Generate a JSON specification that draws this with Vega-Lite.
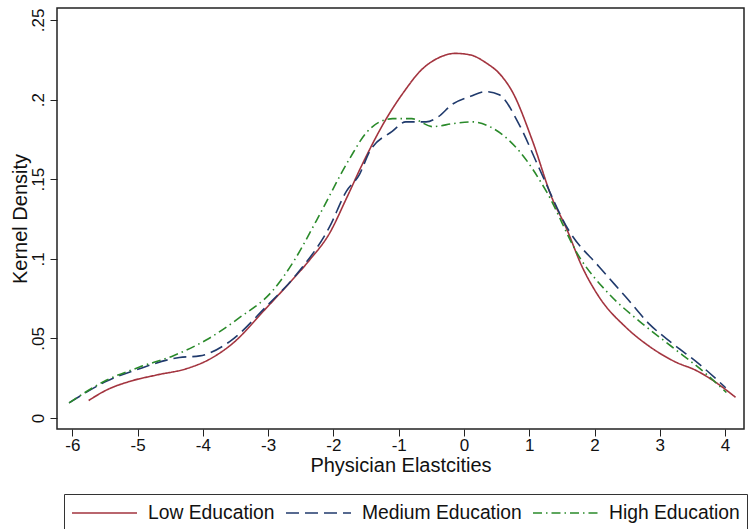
{
  "$schema": "https://vega.github.io/schema/vega-lite/v6.json",
  "autosize": "none",
  "width": 687,
  "height": 421,
  "padding": {"left": 57, "top": 8, "right": 4, "bottom": 100},
  "background": "white",
  "config": {
    "font": "Liberation Sans",
    "view": {"stroke": "#222", "strokeWidth": 1.5},
    "axis": {"grid": false, "domain": false, "tickColor": "#222", "labelColor": "#111", "titleColor": "#111", "titleFontWeight": "normal"}
  },
  "data": {"values": [
    {"g": "Low Education", "x": -5.75, "y": 0.011},
    {"g": "Low Education", "x": -5.48, "y": 0.0175},
    {"g": "Low Education", "x": -5.12, "y": 0.023},
    {"g": "Low Education", "x": -4.71, "y": 0.027},
    {"g": "Low Education", "x": -4.25, "y": 0.031},
    {"g": "Low Education", "x": -3.94, "y": 0.036},
    {"g": "Low Education", "x": -3.54, "y": 0.047},
    {"g": "Low Education", "x": -3.03, "y": 0.069},
    {"g": "Low Education", "x": -2.67, "y": 0.085},
    {"g": "Low Education", "x": -2.37, "y": 0.099},
    {"g": "Low Education", "x": -2.06, "y": 0.116},
    {"g": "Low Education", "x": -1.8, "y": 0.138},
    {"g": "Low Education", "x": -1.55, "y": 0.16},
    {"g": "Low Education", "x": -1.19, "y": 0.188},
    {"g": "Low Education", "x": -0.9, "y": 0.206},
    {"g": "Low Education", "x": -0.68, "y": 0.2175},
    {"g": "Low Education", "x": -0.4, "y": 0.226},
    {"g": "Low Education", "x": -0.13, "y": 0.229},
    {"g": "Low Education", "x": 0.1, "y": 0.228},
    {"g": "Low Education", "x": 0.34, "y": 0.223},
    {"g": "Low Education", "x": 0.55, "y": 0.216},
    {"g": "Low Education", "x": 0.74, "y": 0.205},
    {"g": "Low Education", "x": 1.05, "y": 0.174},
    {"g": "Low Education", "x": 1.35, "y": 0.138},
    {"g": "Low Education", "x": 1.56, "y": 0.12},
    {"g": "Low Education", "x": 1.81, "y": 0.095},
    {"g": "Low Education", "x": 2.07, "y": 0.076},
    {"g": "Low Education", "x": 2.48, "y": 0.057},
    {"g": "Low Education", "x": 2.84, "y": 0.045},
    {"g": "Low Education", "x": 3.25, "y": 0.035},
    {"g": "Low Education", "x": 3.55, "y": 0.03},
    {"g": "Low Education", "x": 3.8, "y": 0.024},
    {"g": "Low Education", "x": 4.16, "y": 0.013},
    {"g": "Medium Education", "x": -6.05, "y": 0.0095},
    {"g": "Medium Education", "x": -5.48, "y": 0.023},
    {"g": "Medium Education", "x": -4.97, "y": 0.031},
    {"g": "Medium Education", "x": -4.36, "y": 0.038},
    {"g": "Medium Education", "x": -4.05, "y": 0.039},
    {"g": "Medium Education", "x": -3.59, "y": 0.048},
    {"g": "Medium Education", "x": -3.03, "y": 0.07},
    {"g": "Medium Education", "x": -2.57, "y": 0.09},
    {"g": "Medium Education", "x": -2.06, "y": 0.12},
    {"g": "Medium Education", "x": -1.8, "y": 0.1425},
    {"g": "Medium Education", "x": -1.6, "y": 0.153},
    {"g": "Medium Education", "x": -1.45, "y": 0.167},
    {"g": "Medium Education", "x": -1.1, "y": 0.18},
    {"g": "Medium Education", "x": -0.89, "y": 0.186},
    {"g": "Medium Education", "x": -0.58, "y": 0.186},
    {"g": "Medium Education", "x": -0.4, "y": 0.189},
    {"g": "Medium Education", "x": -0.18, "y": 0.197},
    {"g": "Medium Education", "x": 0.1, "y": 0.202},
    {"g": "Medium Education", "x": 0.34, "y": 0.205},
    {"g": "Medium Education", "x": 0.54, "y": 0.203},
    {"g": "Medium Education", "x": 0.85, "y": 0.184},
    {"g": "Medium Education", "x": 1.15, "y": 0.157},
    {"g": "Medium Education", "x": 1.61, "y": 0.1175},
    {"g": "Medium Education", "x": 2.07, "y": 0.095},
    {"g": "Medium Education", "x": 2.48, "y": 0.076},
    {"g": "Medium Education", "x": 2.84, "y": 0.059},
    {"g": "Medium Education", "x": 3.19, "y": 0.047},
    {"g": "Medium Education", "x": 3.6, "y": 0.034},
    {"g": "Medium Education", "x": 4.01, "y": 0.019},
    {"g": "High Education", "x": -6.05, "y": 0.0095},
    {"g": "High Education", "x": -5.48, "y": 0.0237},
    {"g": "High Education", "x": -4.97, "y": 0.032},
    {"g": "High Education", "x": -4.46, "y": 0.039},
    {"g": "High Education", "x": -3.95, "y": 0.049},
    {"g": "High Education", "x": -3.44, "y": 0.063},
    {"g": "High Education", "x": -2.93, "y": 0.08},
    {"g": "High Education", "x": -2.6, "y": 0.099},
    {"g": "High Education", "x": -2.26, "y": 0.124},
    {"g": "High Education", "x": -1.75, "y": 0.163},
    {"g": "High Education", "x": -1.5, "y": 0.179},
    {"g": "High Education", "x": -1.29, "y": 0.186},
    {"g": "High Education", "x": -1.09, "y": 0.188},
    {"g": "High Education", "x": -0.8, "y": 0.188},
    {"g": "High Education", "x": -0.48, "y": 0.183},
    {"g": "High Education", "x": -0.15, "y": 0.185},
    {"g": "High Education", "x": 0.13, "y": 0.186},
    {"g": "High Education", "x": 0.44, "y": 0.182},
    {"g": "High Education", "x": 0.85, "y": 0.1675},
    {"g": "High Education", "x": 1.26, "y": 0.1425},
    {"g": "High Education", "x": 1.77, "y": 0.101},
    {"g": "High Education", "x": 2.22, "y": 0.078},
    {"g": "High Education", "x": 2.68, "y": 0.061},
    {"g": "High Education", "x": 3.19, "y": 0.0446},
    {"g": "High Education", "x": 3.7, "y": 0.028},
    {"g": "High Education", "x": 4.02, "y": 0.016}
  ]},
  "mark": {"type": "line", "interpolate": "monotone", "strokeWidth": 1.6, "clip": true},
  "encoding": {
    "x": {
      "field": "x", "type": "quantitative",
      "scale": {"domain": [-6.235, 4.29], "nice": false, "zero": false},
      "axis": {"values": [-6,-5,-4,-3,-2,-1,0,1,2,3,4], "labelExpr": "datum.value < 0 ? '-' + abs(datum.value) : '' + datum.value", "title": "Physician Elastcities", "labelFontSize": 17, "titleFontSize": 20, "tickSize": 7, "labelPadding": 1, "titlePadding": 2}
    },
    "y": {
      "field": "y", "type": "quantitative",
      "scale": {"domain": [-0.0069, 0.2575], "nice": false, "zero": false},
      "axis": {"values": [0, 0.05, 0.1, 0.15, 0.2, 0.25], "labelExpr": "replace(format(datum.value, '.2~f'), '0.', '.')", "title": "Kernel Density", "labelAngle": -90, "labelAlign": "center", "labelBaseline": "bottom", "labelFontSize": 17, "titleFontSize": 20, "tickSize": 7, "labelPadding": 3, "titleX": -27, "titleBaseline": "bottom"}
    },
    "color": {
      "field": "g", "type": "nominal",
      "scale": {"domain": ["Low Education", "Medium Education", "High Education"], "range": ["#a3343f", "#203a6c", "#2a8a2a"]},
      "legend": {"title": null, "orient": "none", "legendX": 7, "legendY": 486, "direction": "horizontal", "symbolType": "stroke", "symbolSize": 4225, "clipHeight": 24, "symbolStrokeWidth": 1.6, "labelFontSize": 19.3, "labelColor": "#111", "labelOffset": 10, "columnPadding": 10, "strokeColor": "#333", "padding": 7, "labelLimit": 300}
    },
    "strokeDash": {
      "field": "g", "type": "nominal",
      "scale": {"domain": ["Low Education", "Medium Education", "High Education"], "range": [[1, 0], [13, 6], [9, 4, 1.5, 4]]},
      "legend": {"title": null, "orient": "none", "legendX": 7, "legendY": 486, "direction": "horizontal", "symbolType": "stroke", "symbolSize": 4225, "clipHeight": 24, "symbolStrokeWidth": 1.6, "labelFontSize": 19.3, "labelColor": "#111", "labelOffset": 10, "columnPadding": 10, "strokeColor": "#333", "padding": 7, "labelLimit": 300}
    }
  }
}
